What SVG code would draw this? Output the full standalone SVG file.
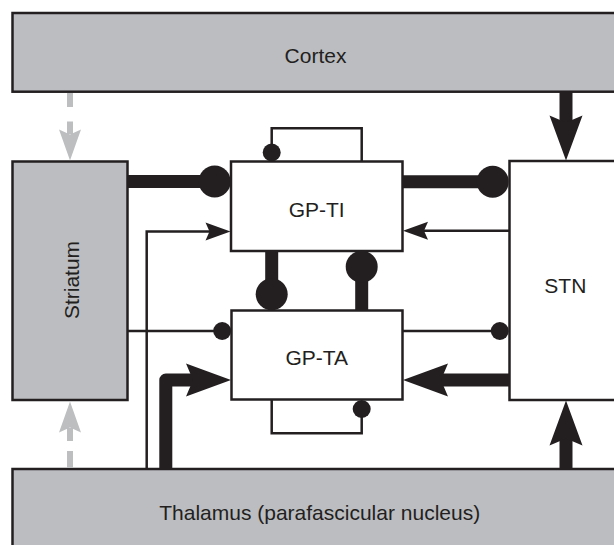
<svg xmlns="http://www.w3.org/2000/svg" xmlns:xlink="http://www.w3.org/1999/xlink" width="614" height="545" viewBox="0 0 614 545">
  <style>
    .box { stroke: #231f20; stroke-width: 2.5; }
    .grey { fill: #bcbdc0; }
    .white { fill: #ffffff; }
    .lbl { font-family: "Liberation Sans", Arial, sans-serif; font-size: 21px; fill: #231f20; text-anchor: middle; }
    .thin { fill: none; stroke: #231f20; stroke-width: 2.5; }
    .thick { fill: none; stroke: #231f20; stroke-width: 13; }
    .dash { fill: none; stroke: #bcbec0; stroke-width: 6; }
    .head { fill: #231f20; }
    .ghead { fill: #bcbec0; }
    .ball { fill: #231f20; }
  </style>
  <defs>
    <path id="thinHead" d="M0,0 L-25,-9 L-21,0 L-25,9 Z"/>
    <path id="thickHead" d="M0,0 L-45,-16.5 L-38,0 L-45,16.5 Z"/>
    <path id="greyHead" d="M0,0 L-31,-11 L-26,0 L-31,11 Z"/>
  </defs>
  <rect width="614" height="545" fill="#ffffff"/>

  <g id="cortex">
    <rect class="box grey" x="12.5" y="13" width="620" height="78.7"/>
    <text class="lbl" x="315.5" y="62.7">Cortex</text>
  </g>
  <g id="thalamus">
    <rect class="box grey" x="12.5" y="469" width="620" height="90"/>
    <text class="lbl" x="319.7" y="520">Thalamus (parafascicular nucleus)</text>
  </g>
  <g id="striatum">
    <rect class="box grey" x="12.5" y="161.5" width="115" height="238.5"/>
    <text class="lbl" transform="translate(79,280) rotate(-90)">Striatum</text>
  </g>
  <g id="gp-ti">
    <rect class="box white" x="231" y="161.5" width="171.5" height="89.5"/>
    <text class="lbl" x="316.7" y="217.3">GP-TI</text>
  </g>
  <g id="gp-ta">
    <rect class="box white" x="231.5" y="310.5" width="171" height="89"/>
    <text class="lbl" x="316.7" y="365">GP-TA</text>
  </g>
  <g id="stn">
    <rect class="box white" x="509.5" y="161" width="120" height="239"/>
    <text class="lbl" x="565.3" y="293.3">STN</text>
  </g>

  <g id="connectors">
    <!-- grey dashed: cortex -> striatum -->
    <line class="dash" x1="70" y1="93" x2="70" y2="134" stroke-dasharray="14 14.5"/>
    <use href="#greyHead" class="ghead" transform="translate(70,160.5) rotate(90)"/>
    <!-- grey dashed: thalamus -> striatum -->
    <line class="dash" x1="70" y1="468" x2="70" y2="428" stroke-dasharray="17 10"/>
    <use href="#greyHead" class="ghead" transform="translate(70,401.5) rotate(-90)"/>

    <!-- cortex -> STN -->
    <line class="thick" x1="566" y1="92" x2="566" y2="125"/>
    <use href="#thickHead" class="head" transform="translate(566,160.5) rotate(90)"/>
    <!-- thalamus -> STN -->
    <line class="thick" x1="566" y1="468" x2="566" y2="437"/>
    <use href="#thickHead" class="head" transform="translate(566,400.5) rotate(-90)"/>

    <!-- striatum -| GP-TI (thick) -->
    <line class="thick" x1="128" y1="181.5" x2="205" y2="181.5"/>
    <circle class="ball" cx="214.7" cy="181.5" r="16"/>
    <!-- STN -| GP-TI (thick) -->
    <line class="thick" x1="402" y1="181.7" x2="485" y2="181.7"/>
    <circle class="ball" cx="492.7" cy="181.7" r="16"/>

    <!-- GP-TI self loop -->
    <path class="thin" d="M271.7,152 V128.3 H361.7 V161"/>
    <circle class="ball" cx="271.7" cy="152.5" r="9"/>

    <!-- thalamus -> GP-TI (thin) -->
    <path class="thin" d="M146.7,469 V231.5 H210"/>
    <use href="#thinHead" class="head" transform="translate(230.5,231.5)"/>
    <!-- STN -> GP-TI (thin) -->
    <line class="thin" x1="509" y1="230.7" x2="424" y2="230.7"/>
    <use href="#thinHead" class="head" transform="translate(403,230.7) rotate(180)"/>

    <!-- GP-TI -| GP-TA (thick) -->
    <line class="thick" x1="271.7" y1="251" x2="271.7" y2="290"/>
    <circle class="ball" cx="271.7" cy="294.3" r="16"/>
    <!-- GP-TA -| GP-TI (thick) -->
    <line class="thick" x1="361.7" y1="310" x2="361.7" y2="270"/>
    <circle class="ball" cx="361.7" cy="266.7" r="16"/>

    <!-- striatum -| GP-TA (thin) -->
    <line class="thin" x1="128" y1="331" x2="215" y2="331"/>
    <circle class="ball" cx="222.2" cy="331" r="9"/>
    <!-- STN -| GP-TA (thin) -->
    <line class="thin" x1="402" y1="331" x2="495" y2="331"/>
    <circle class="ball" cx="499.8" cy="331" r="9"/>

    <!-- thalamus -> GP-TA (thick L) -->
    <path class="thick" d="M165.8,469 V380 H198" stroke-linejoin="round"/>
    <use href="#thickHead" class="head" transform="translate(231,380)"/>
    <!-- STN -> GP-TA (thick) -->
    <line class="thick" x1="509" y1="380" x2="440" y2="380"/>
    <use href="#thickHead" class="head" transform="translate(403,380) rotate(180)"/>

    <!-- GP-TA self loop -->
    <path class="thin" d="M271.7,400 V433.3 H361.7 V410"/>
    <circle class="ball" cx="361.7" cy="409" r="9"/>
  </g>
</svg>
